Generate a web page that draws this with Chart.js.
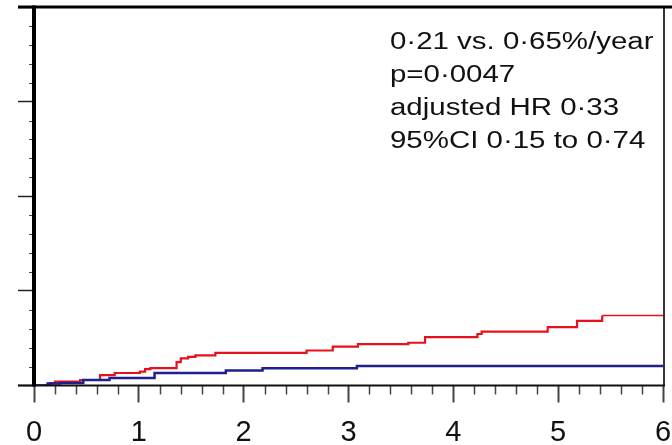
<!DOCTYPE html>
<html>
<head>
<meta charset="utf-8">
<script src="https://cdn.jsdelivr.net/npm/chart.js@4/dist/chart.umd.min.js"></script>
<style>
html,body{margin:0;padding:0;background:#fff;}
canvas{display:block;}
</style>
</head>
<body>
<canvas id="c" width="672" height="445"></canvas>
<script>
// Years of follow-up (x) and cumulative event rate in % (y), step curves
const redX  = [0, 0.15, 0.20, 0.44, 0.63, 0.77, 1.01, 1.06, 1.11, 1.36, 1.40, 1.47, 1.54, 1.73, 2.60, 2.85, 3.09, 3.57, 3.73, 4.23, 4.27, 4.90, 5.18, 5.42, 6.00];
const redY  = [0, 0.13, 0.20, 0.29, 0.55, 0.66, 0.73, 0.87, 0.92, 1.24, 1.43, 1.51, 1.59, 1.72, 1.85, 2.05, 2.19, 2.26, 2.56, 2.72, 2.85, 3.08, 3.41, 3.70, 3.70];
const blueX = [0, 0.13, 0.25, 0.47, 0.72, 1.15, 1.83, 2.18, 3.08, 6.00];
const blueY = [0, 0.10, 0.13, 0.29, 0.40, 0.66, 0.79, 0.91, 1.03, 1.03];
const xTicks = [0, 1, 2, 3, 4, 5, 6];
const yMajor = [0, 5, 10, 15, 20];
const noteLines = ["0·21 vs. 0·65%/year", "p=0·0047", "adjusted HR 0·33", "95%CI 0·15 to 0·74"];

const RED = '#e5121b';
const BLUE = '#1f1f8f';

const framePlugin = {
  id: 'frame',
  afterDatasetsDraw(chart) {
    const ctx = chart.ctx;
    const xs = chart.scales.x, ys = chart.scales.y;
    const L = xs.getPixelForValue(0), R = xs.getPixelForValue(6);
    const T = ys.getPixelForValue(20), B = ys.getPixelForValue(0);
    ctx.save();
    // minor x ticks
    ctx.strokeStyle = '#444'; ctx.lineWidth = 1.5;
    for (let i = 1; i < 30; i++) {
      if (i % 5 === 0) continue;
      const px = Math.round(xs.getPixelForValue(i * 0.2)) + 0.5;
      ctx.beginPath(); ctx.moveTo(px, B); ctx.lineTo(px, B + 9); ctx.stroke();
    }
    // minor y ticks
    ctx.lineWidth = 1;
    for (let v = 1; v < 20; v++) {
      if (v % 5 === 0) continue;
      const py = Math.round(ys.getPixelForValue(v)) + 0.5;
      ctx.beginPath(); ctx.moveTo(L - 5, py); ctx.lineTo(L, py); ctx.stroke();
    }
    // right border
    ctx.strokeStyle = '#333'; ctx.lineWidth = 2;
    ctx.beginPath(); ctx.moveTo(R + 1, T); ctx.lineTo(R + 1, B); ctx.stroke();
    // bottom axis
    ctx.strokeStyle = '#111'; ctx.lineWidth = 2;
    ctx.beginPath(); ctx.moveTo(L - 16, B); ctx.lineTo(R + 2, B); ctx.stroke();
    // top border
    ctx.strokeStyle = '#000'; ctx.lineWidth = 3;
    ctx.beginPath(); ctx.moveTo(L - 16, T); ctx.lineTo(672, T); ctx.stroke();
    // left axis
    ctx.lineWidth = 4;
    ctx.beginPath(); ctx.moveTo(L, T - 1.5); ctx.lineTo(L, B + 1); ctx.stroke();
    // annotation text (horizontally stretched like the reference)
    ctx.fillStyle = '#111';
    ctx.font = '23px "Liberation Sans", Arial, sans-serif';
    ctx.textBaseline = 'alphabetic';
    const sx = 1.28;
    noteLines.forEach((t, i) => {
      ctx.save();
      ctx.translate(390, 48.5 + i * 33.3);
      ctx.scale(sx, 1);
      ctx.fillText(t, 0, 0);
      ctx.restore();
    });
    ctx.restore();
  }
};

new Chart(document.getElementById('c'), {
  type: 'line',
  data: {
    datasets: [
      {
        data: blueX.map((x, i) => ({x: x, y: blueY[i]})),
        borderColor: BLUE, borderWidth: 2.5, stepped: 'before', pointRadius: 0, fill: false
      },
      {
        data: redX.map((x, i) => ({x: x, y: redY[i]})),
        borderColor: RED, borderWidth: 2.2, stepped: 'before', pointRadius: 0, fill: false,
        segment: { borderWidth: c => (c.p0.parsed.x >= 5.4 ? 1.3 : 2.2) }
      }
    ]
  },
  options: {
    responsive: false,
    animation: false,
    events: [],
    layout: { padding: { top: 7, right: 9, left: 0, bottom: 0 } },
    plugins: { legend: { display: false }, tooltip: { enabled: false } },
    scales: {
      x: {
        type: 'linear', min: 0, max: 6,
        afterBuildTicks: s => { s.ticks = xTicks.map(v => ({value: v})); },
        ticks: {
          color: '#111', padding: 13, maxRotation: 0, autoSkip: false,
          font: { family: '"Liberation Sans", Arial, sans-serif', size: 29 }
        },
        grid: { drawOnChartArea: false, drawTicks: true, tickLength: 17, tickColor: '#444', tickWidth: 2 },
        border: { display: false },
        afterFit: s => { s.height = 59.5; s.paddingLeft = 0; s.paddingRight = 0; }
      },
      y: {
        type: 'linear', min: 0, max: 20,
        afterBuildTicks: s => { s.ticks = yMajor.map(v => ({value: v})); },
        ticks: { display: false },
        grid: { drawOnChartArea: false, drawTicks: true, tickLength: 16, tickColor: '#222', tickWidth: 1.5 },
        border: { display: false },
        afterFit: s => { s.width = 34; }
      }
    }
  },
  plugins: [framePlugin]
});
</script>
</body>
</html>
